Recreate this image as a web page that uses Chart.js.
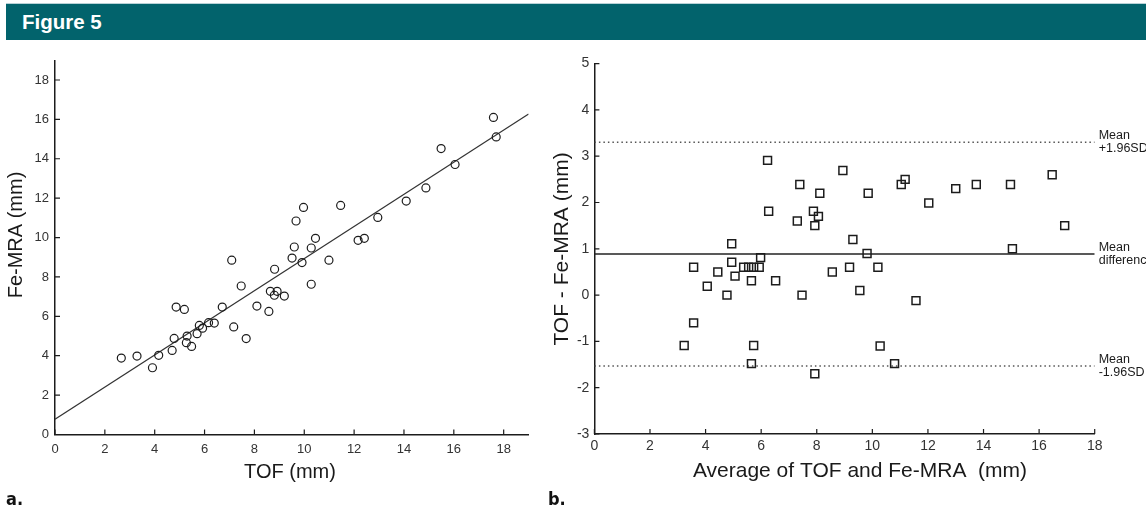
<!DOCTYPE html>
<html>
<head>
<meta charset="utf-8">
<script src="https://cdn.jsdelivr.net/npm/chart.js@4.4.1/dist/chart.umd.min.js"></script>
<style>
html,body{margin:0;padding:0;background:#fff;width:1146px;height:517px;overflow:hidden;position:relative;font-family:'Liberation Sans',Arial,sans-serif}
#topline{position:absolute;left:6px;top:3px;width:1140px;height:1px;background:#b8d2d7}
#bar{position:absolute;left:6px;top:4px;width:1140px;height:36px;background:#02636c}
#bar span{position:absolute;left:16px;top:8px;color:#fff;font-weight:bold;font-size:20.5px;line-height:1;font-family:'Liberation Sans',Arial,sans-serif}
.plabel{position:absolute;top:490px;font-weight:bold;font-size:18px;line-height:1;color:#111;font-family:'Liberation Sans Narrow','DejaVu Sans Condensed','Liberation Sans',sans-serif}
#w1{position:absolute;left:0;top:44px;width:545px;height:446px}
#w2{position:absolute;left:545px;top:44px;width:601px;height:446px}
</style>
</head>
<body>
<div id="topline"></div>
<div id="bar"><span>Figure 5</span></div>
<div id="w1"><canvas id="c1" width="545" height="446" style="width:545px;height:446px"></canvas></div>
<div id="w2"><canvas id="c2" width="601" height="446" style="width:601px;height:446px"></canvas></div>
<div class="plabel" style="left:6px">a.</div>
<div class="plabel" style="left:548px">b.</div>
<script>
// ---------- Panel a: TOF vs Fe-MRA ----------
const tof = [2.66,3.29,3.91,4.16,4.70,4.78,4.86,5.19,5.30,5.27,5.48,5.70,5.79,5.92,6.16,6.39,6.71,7.09,7.17,7.47,7.67,8.10,8.58,8.64,8.81,8.80,8.91,9.20,9.51,9.60,9.67,9.91,9.97,10.28,10.28,10.45,10.99,11.46,12.16,12.41,12.95,14.09,14.88,15.49,16.05,17.59,17.70];
const feMra = [3.88,3.98,3.39,4.02,4.27,4.88,6.47,6.35,5.00,4.66,4.47,5.12,5.54,5.40,5.68,5.66,6.47,8.85,5.46,7.54,4.87,6.52,6.25,7.27,8.39,7.07,7.27,7.03,8.96,9.52,10.84,8.73,11.53,9.47,7.63,9.96,8.85,11.63,9.86,9.96,11.02,11.85,12.52,14.52,13.71,16.10,15.11];
const regX = [0, 19];
const regY = [0.78, 16.27];
const ticksAX = [0,2,4,6,8,10,12,14,16,18];
const ticksAY = [0,2,4,6,8,10,12,14,16,18];

// ---------- Panel b: Bland-Altman ----------
const avgTofFe = [6.23,6.27,4.94,4.94,3.57,4.44,5.06,5.37,5.55,5.73,5.93,5.98,5.65,6.52,4.06,4.77,3.57,3.23,5.73,5.65,7.93,7.47,7.30,7.39,8.11,7.88,8.06,7.93,8.94,9.30,8.56,9.18,9.55,9.81,9.85,10.20,11.57,10.28,10.80,11.04,11.18,12.03,13.00,13.74,14.97,15.04,16.47,16.92];
const diffTofFe = [2.91,1.81,1.11,0.71,0.60,0.50,0.41,0.60,0.60,0.60,0.60,0.81,0.31,0.31,0.19,0.00,-0.60,-1.09,-1.09,-1.48,-1.70,0.00,1.60,2.39,2.20,1.81,1.70,1.50,2.69,1.20,0.50,0.60,0.10,0.90,2.20,0.60,-0.12,-1.10,-1.48,2.39,2.50,1.99,2.30,2.39,2.39,1.00,2.60,1.50];
const meanDiff = 0.89;
const upperLoA = 3.30;
const lowerLoA = -1.53;
const loaLabels = [['Mean','+1.96SD'],['Mean','difference'],['Mean','-1.96SD']];
const ticksBX = [0,2,4,6,8,10,12,14,16,18];
const ticksBY = [-3,-2,-1,0,1,2,3,4,5];

const INK = '#1c1c1c';

// inward tick marks drawn from the scales
const inTicks = {
  id: 'inTicks',
  afterDraw(chart, args, o) {
    const {ctx, chartArea} = chart;
    const xs = chart.scales.x, ys = chart.scales.y;
    ctx.save();
    ctx.strokeStyle = INK; ctx.lineWidth = 1.2;
    ctx.beginPath();
    xs.ticks.forEach(t => { const p = xs.getPixelForValue(t.value); ctx.moveTo(p, chartArea.bottom); ctx.lineTo(p, chartArea.bottom - o.len); });
    ys.ticks.forEach(t => { const p = ys.getPixelForValue(t.value); ctx.moveTo(chartArea.left, p); ctx.lineTo(chartArea.left + o.len, p); });
    ctx.stroke();
    ctx.restore();
  }
};

const axisTitles = {
  id: 'axisTitles',
  afterDraw(chart, args, o) {
    const ctx = chart.ctx;
    ctx.save();
    ctx.fillStyle = '#1a1a1a';
    ctx.font = o.size + "px 'Liberation Sans', Arial, sans-serif";
    ctx.textAlign = 'center'; ctx.textBaseline = 'middle';
    ctx.fillText(o.xText, o.xPos[0], o.xPos[1]);
    ctx.translate(o.yPos[0], o.yPos[1]);
    ctx.rotate(-Math.PI / 2);
    ctx.fillText(o.yText, 0, 0);
    ctx.restore();
  }
};

const loaText = {
  id: 'loaText',
  afterDraw(chart) {
    const {ctx, chartArea} = chart;
    const ys = chart.scales.y;
    const vals = [upperLoA, meanDiff, lowerLoA];
    ctx.save();
    ctx.fillStyle = '#1a1a1a';
    ctx.font = "12.5px 'Liberation Sans', Arial, sans-serif";
    ctx.textAlign = 'left'; ctx.textBaseline = 'middle';
    vals.forEach((v, i) => {
      const p = ys.getPixelForValue(v);
      ctx.fillText(loaLabels[i][0], chartArea.right + 4, p - 6.7);
      ctx.fillText(loaLabels[i][1], chartArea.right + 4, p + 6.7);
    });
    ctx.restore();
  }
};

function mkScale(min, max, tickVals, fontSize, pad, fit) {
  return {
    type: 'linear', min, max,
    afterBuildTicks: s => { s.ticks = tickVals.map(v => ({value: v})); },
    afterFit: fit,
    grid: {display: false, drawTicks: false},
    border: {display: true, color: INK, width: 1.5},
    ticks: {color: '#333', padding: pad, autoSkip: false, maxRotation: 0,
            font: {family: "'Liberation Sans', Arial, sans-serif", size: fontSize}},
  };
}

new Chart(document.getElementById('c1'), {
  type: 'scatter',
  data: {
    datasets: [
      {data: tof.map((x, i) => ({x, y: feMra[i]})), pointStyle: 'circle', pointRadius: 4,
       borderColor: INK, borderWidth: 1.2, backgroundColor: 'rgba(0,0,0,0)'},
      {data: regX.map((x, i) => ({x, y: regY[i]})), showLine: true, pointRadius: 0,
       borderColor: '#333', borderWidth: 1.2, fill: false}
    ]
  },
  options: {
    responsive: false, animation: false, devicePixelRatio: 1,
    layout: {padding: {top: 16.3, right: 16.4, left: 0, bottom: 0}},
    scales: {
      x: mkScale(0, 19, ticksAX, 13, 7, s => { s.height = 55.5; }),
      y: mkScale(0, 19, ticksAY, 13, 6, s => { s.width = 55; })
    },
    plugins: {
      legend: {display: false}, tooltip: {enabled: false},
      inTicks: {len: 5},
      axisTitles: {size: 20, xText: 'TOF (mm)', xPos: [290, 428], yText: 'Fe-MRA (mm)', yPos: [16, 191]}
    }
  },
  plugins: [inTicks, axisTitles]
});

new Chart(document.getElementById('c2'), {
  type: 'scatter',
  data: {
    datasets: [
      {data: avgTofFe.map((x, i) => ({x, y: diffTofFe[i]})), pointStyle: 'rect', pointRadius: 5.6,
       borderColor: INK, borderWidth: 1.5, backgroundColor: 'rgba(0,0,0,0)'},
      {data: [{x: 0, y: meanDiff}, {x: 18, y: meanDiff}], showLine: true, pointRadius: 0,
       borderColor: '#222', borderWidth: 1.5},
      {data: [{x: 0, y: upperLoA}, {x: 18, y: upperLoA}], showLine: true, pointRadius: 0,
       borderColor: '#555', borderWidth: 1.5, borderDash: [1.5, 3]},
      {data: [{x: 0, y: lowerLoA}, {x: 18, y: lowerLoA}], showLine: true, pointRadius: 0,
       borderColor: '#555', borderWidth: 1.5, borderDash: [1.5, 3]}
    ]
  },
  options: {
    responsive: false, animation: false, devicePixelRatio: 1,
    layout: {padding: {top: 19.6, right: 51.3, left: 0, bottom: 0}},
    scales: {
      x: mkScale(0, 18, ticksBX, 14, 4, s => { s.height = 56; }),
      y: mkScale(-3, 5, ticksBY, 14, 5, s => { s.width = 49.4; })
    },
    plugins: {
      legend: {display: false}, tooltip: {enabled: false},
      inTicks: {len: 5},
      axisTitles: {size: 21, xText: 'Average of TOF and Fe-MRA  (mm)', xPos: [315, 427.5], yText: 'TOF - Fe-MRA (mm)', yPos: [17, 205]}
    }
  },
  plugins: [inTicks, axisTitles, loaText]
});
</script>
</body>
</html>
